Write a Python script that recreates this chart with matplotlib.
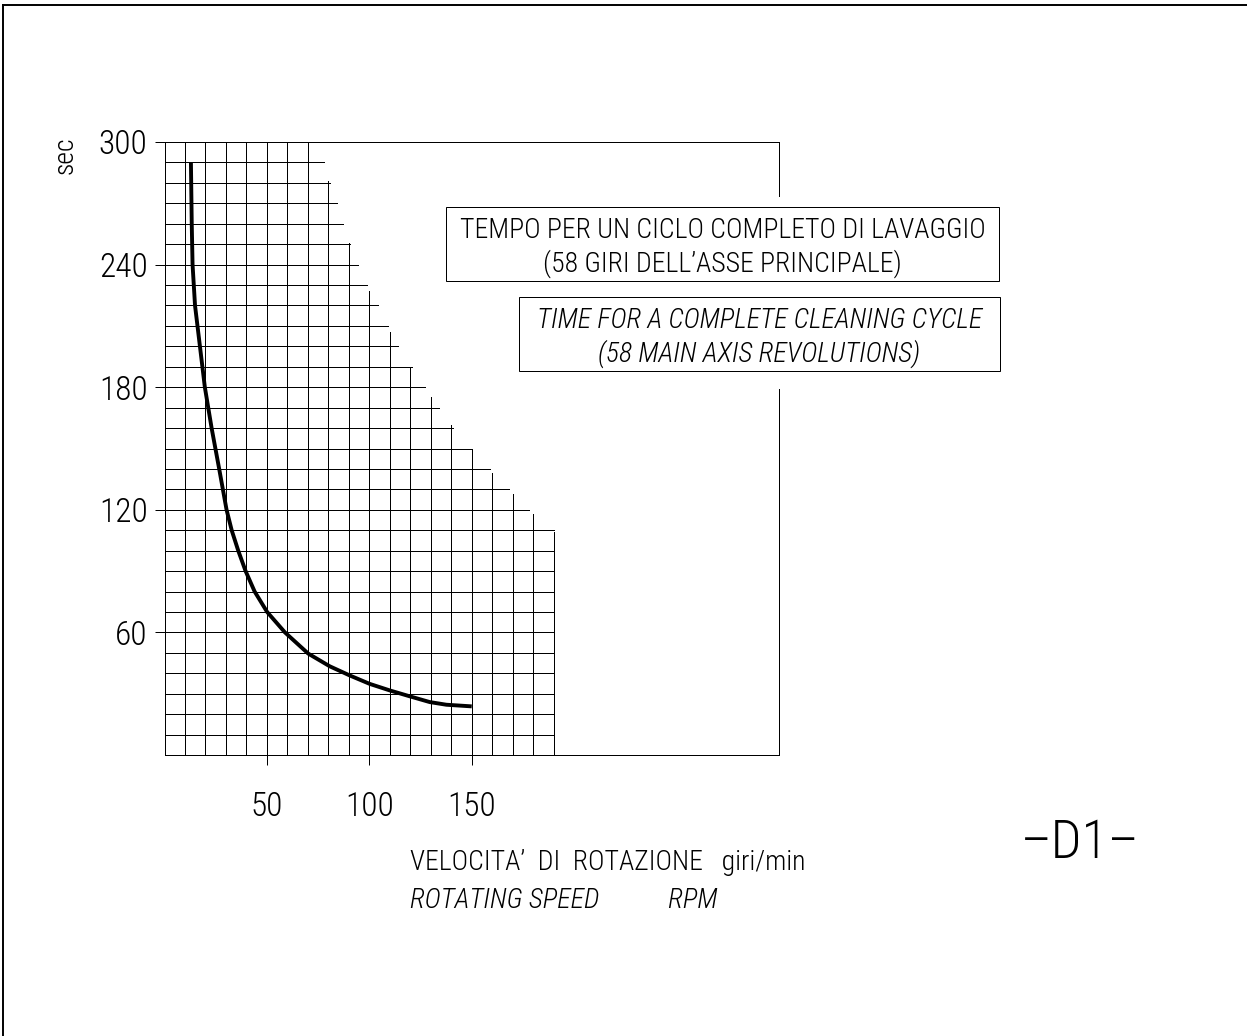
import matplotlib
matplotlib.use("Agg")
import matplotlib.pyplot as plt
from matplotlib.patches import Rectangle
from matplotlib.lines import Line2D

W, H = 1247, 1036
DPI = 100

# curve: speed (rpm) -> time for one cycle (sec)
speed_rpm = [12.9, 13.3, 13.7, 14.9, 17.3, 19.7, 23.0, 26.7, 30.3, 32.8, 36.0,
             39.6, 44.0, 50.1, 58.8, 70.2, 80.7, 90.5, 100.2, 110.0, 119.8,
             129.5, 137.6, 150.0]
cycle_sec = [290, 260, 240, 220, 200, 180, 160, 140, 120, 110, 100, 90, 80,
             70, 60, 49.6, 43.4, 38.9, 34.8, 31.6, 28.7, 25.9, 24.6, 23.8]

# staircase grid: each row line stops at row_ends, each column at col_tops
grid_rows = [10, 20, 30, 40, 50, 60, 70, 80, 90, 100, 110, 120, 130, 140, 150,
             160, 170, 180, 190, 200, 210, 220, 230, 240, 250, 260, 270, 280, 290]
row_ends = [190, 190, 190, 190, 190, 190, 190, 190, 190, 190, 190, 178, 168,
            159, 150, 141, 134, 127, 120.6, 114, 109, 104, 99, 94.4, 90.5, 87,
            84, 81, 78]
grid_cols = [10, 20, 30, 40, 50, 60, 70, 80, 90, 100, 110, 120, 130, 140, 150,
             160, 170, 180, 190]
col_tops = [300, 300, 300, 300, 300, 300, 300, 281, 250.5, 227, 207, 190, 175,
            161.6, 150, 138, 127.6, 118, 109]

x_ticks = [50, 100, 150]
y_ticks = [60, 120, 180, 240, 300]

box1_lines = ["TEMPO PER UN CICLO COMPLETO DI LAVAGGIO",
              "(58 GIRI DELL\u2019ASSE PRINCIPALE)"]
box2_lines = ["TIME FOR A COMPLETE CLEANING CYCLE",
              "(58 MAIN AXIS REVOLUTIONS)"]
xlabel_it = "VELOCITA\u2019  DI  ROTAZIONE   giri/min"
xlabel_en = "ROTATING SPEED           RPM"

plt.rcParams['font.family'] = ['Roboto Condensed', 'DejaVu Sans']
plt.rcParams['font.weight'] = 300

LW = 0.72  # one pixel


def fx(px):
    return px / W


def fy(py):
    return 1 - py / H


fig = plt.figure(figsize=(W / DPI, H / DPI), dpi=DPI)
ax = fig.add_axes([fx(164.5), fy(755), 614.5 / W, 613 / H])
ax.set_xlim(0, 300)
ax.set_ylim(0, 300)

for y, xe in zip(grid_rows, row_ends):
    ax.plot([0, xe], [y, y], color='black', lw=LW)
for x, yt in zip(grid_cols, col_tops):
    ax.plot([x, x], [0, yt], color='black', lw=LW)

ax.plot(speed_rpm, cycle_sec, color='black', lw=2.8, solid_capstyle='butt')

for s in ['left', 'top', 'bottom']:
    ax.spines[s].set_linewidth(LW)
ax.spines['right'].set_visible(False)

ax.set_xticks(x_ticks)
ax.set_yticks(y_ticks)
ax.tick_params(direction='out', length=7.2, width=LW, labelsize=24)
ax.tick_params(axis='x', pad=19)
ax.tick_params(axis='y', pad=5)

# right border, broken where the captions sit
for y0, y1 in [(142, 196), (389, 755)]:
    fig.add_artist(Line2D([fx(779), fx(779)], [fy(y0), fy(y1)], color='black', lw=LW))

# sheet border
fig.add_artist(Line2D([fx(2.5), fx(2.5)], [fy(4.5), 0], color='black', lw=1.4))
fig.add_artist(Line2D([fx(2.5), 1], [fy(4.5), fy(4.5)], color='black', lw=1.4))

# caption boxes
for (x0, y0, x1, y1), lines, style in [((446, 207, 999, 281), box1_lines, 'normal'),
                                       ((519, 297, 1000, 371), box2_lines, 'italic')]:
    fig.add_artist(Rectangle((fx(x0), fy(y1)), (x1 - x0) / W, (y1 - y0) / H,
                             transform=fig.transFigure, fill=False, ec='black', lw=LW))
    cx = (x0 + x1) / 2
    fig.text(fx(cx), fy(y0 + 24), lines[0], ha='center', va='center', fontsize=20, style=style)
    fig.text(fx(cx), fy(y0 + 57), lines[1], ha='center', va='center', fontsize=20, style=style)

fig.text(fx(65), fy(155), "sec", rotation=90, ha='center', va='center', fontsize=20)
fig.text(fx(410), fy(862), xlabel_it, ha='left', va='center', fontsize=20)
fig.text(fx(410), fy(900), xlabel_en, ha='left', va='center', fontsize=20, style='italic')
fig.text(fx(1080), fy(843), "\u2013D1\u2013", ha='center', va='center', fontsize=39)

fig.savefig("out.png", dpi=DPI)
